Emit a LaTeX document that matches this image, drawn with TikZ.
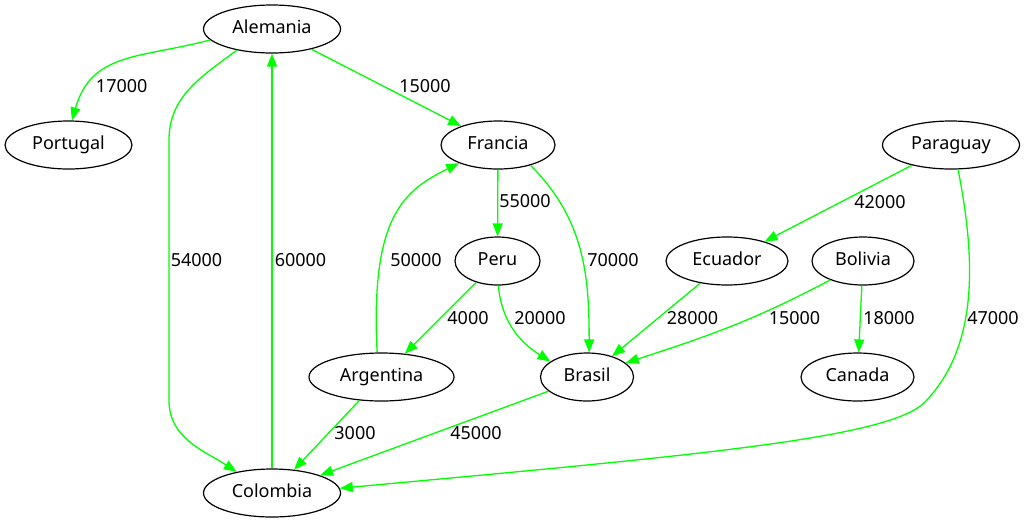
\documentclass[tikz,border=0pt]{standalone}
\usepackage{fontspec}
\setmainfont{Noto Sans}
\usetikzlibrary{arrows.meta,shapes.geometric}
\definecolor{routegreen}{RGB}{0,255,0}
\begin{document}
\begin{tikzpicture}[x=1pt,y=1pt,
	country/.style={ellipse,draw=black,line width=1.2pt,inner sep=0pt,minimum height=48pt,font=\fontsize{18}{20}\selectfont,text height=12.5pt,text depth=3pt},
	road/.style={draw=routegreen,line width=1.3pt,-{Triangle[length=13pt,width=10pt]}},
	cost/.style={inner sep=0pt,font=\fontsize{18}{20}\selectfont}]
		\useasboundingbox (0,0) rectangle (1027,-523);
		\node[country,minimum width=137pt] (Alemania) at (272,-29) {Alemania};
		\node[country,minimum width=127pt] (Portugal) at (68.5,-145) {Portugal};
		\node[country,minimum width=114pt] (Francia) at (498,-145) {Francia};
		\node[country,minimum width=137pt] (Paraguay) at (951,-145) {Paraguay};
		\node[country,minimum width=85pt] (Peru) at (497.5,-261) {Peru};
		\node[country,minimum width=122pt] (Ecuador) at (727,-261) {Ecuador};
		\node[country,minimum width=102pt] (Bolivia) at (863,-261) {Bolivia};
		\node[country,minimum width=145pt] (Argentina) at (381.5,-377) {Argentina};
		\node[country,minimum width=93pt] (Brasil) at (587,-377) {Brasil};
		\node[country,minimum width=113pt] (Canada) at (857.5,-377) {Canada};
		\node[country,minimum width=137pt] (Colombia) at (272,-493) {Colombia};
		\draw[road] (Alemania.190) to[out=195,in=74,looseness=1.15] (Portugal.82);
		\draw[road] (Alemania.211) to[out=217,in=90] (169,-140) -- (169,-400) to[out=-90,in=147] (Colombia.149);
		\draw[road] (Colombia) -- (Alemania);
		\draw[road] (Alemania) -- (Francia);
		\draw[road] (Francia) -- (Peru);
		\draw[road] (Francia.-32) to[out=-45,in=90] (Brasil.85);
		\draw[road] (Argentina.100) .. controls (370,-215) and (405,-190) .. (Francia.205);
		\draw[road] (Peru) -- (Argentina);
		\draw[road] (Peru.-88) to[out=-85,in=148] (Brasil.157);
		\draw[road] (Ecuador) -- (Brasil);
		\draw[road] (Bolivia.210) to[out=208,in=18] (Brasil.20);
		\draw[road] (Bolivia) -- (Canada);
		\draw[road] (Paraguay) -- (Ecuador);
		\draw[road] (Paraguay.-74) .. controls (978,-270) and (975,-350) .. (925,-402) .. controls (890,-438) and (700,-455) .. (Colombia.4);
		\draw[road] (Argentina) -- (Colombia);
		\draw[road] (Brasil) -- (Colombia);
		\node[cost] (cAlPo) at (121.7,-86) {17000};
		\node[cost] (cAlCo) at (196.5,-260) {54000};
		\node[cost] (cCoAl) at (300.5,-260) {60000};
		\node[cost] (cAlFr) at (425,-86) {15000};
		\node[cost] (cFrPe) at (525,-201.5) {55000};
		\node[cost] (cArFr) at (416,-260) {50000};
		\node[cost] (cFrBr) at (613,-260) {70000};
		\node[cost] (cPeAr) at (468,-318) {4000};
		\node[cost] (cPeBr) at (540,-318) {20000};
		\node[cost] (cEcBr) at (692.5,-318) {28000};
		\node[cost] (cBoBr) at (794.5,-318) {15000};
		\node[cost] (cBoCa) at (889,-318) {18000};
		\node[cost] (cPaCo) at (993,-318) {47000};
		\node[cost] (cPaEc) at (880,-202) {42000};
		\node[cost] (cArCo) at (355,-433.5) {3000};
		\node[cost] (cBrCo) at (476,-433.5) {45000};
\end{tikzpicture}
\end{document}
